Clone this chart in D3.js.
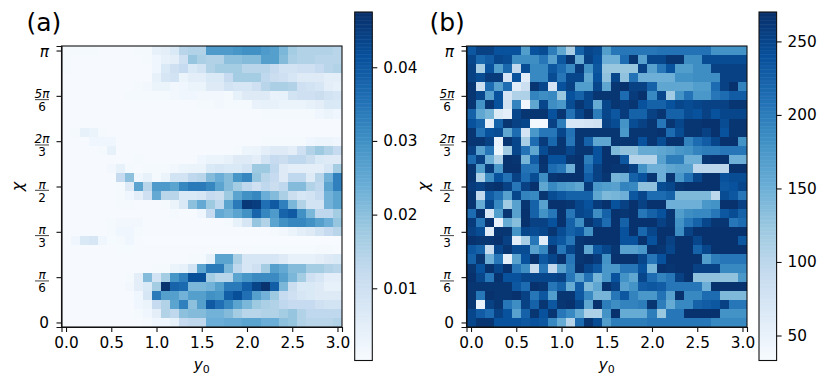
<!DOCTYPE html>
<html>
<head>
<meta charset="utf-8">
<script src="https://d3js.org/d3.v7.min.js"></script>
<style>
  html, body {margin: 0; padding: 0; background: #fff;}
  svg {display: block;}
  text {font-family: "DejaVu Sans", sans-serif; fill: #000;}
  .axis text {font-size: 15.3px;}
  .axis path, .axis line {stroke: #111; stroke-width: 1.1;}
</style>
</head>
<body>
<div id="chart"></div>
<script>
var yTicks = [0, 0.5, 1, 1.5, 2, 2.5, 3];
var yLabels = ["0.0", "0.5", "1.0", "1.5", "2.0", "2.5", "3.0"];
// chi ticks, as multiples of pi
var chiTicks = [0, 1/6, 1/3, 1/2, 2/3, 5/6, 1];
var chiNum = ["0", "π", "π", "π", "2π", "5π", "π"];
var chiDen = ["", "6", "3", "2", "3", "6", ""];
var barTicksA = [0.01, 0.02, 0.03, 0.04];
var barTicksB = [50, 100, 150, 200, 250];
var blues = ["#f7fbff", "#deebf7", "#c6dbef", "#9ecae1", "#6baed6", "#4292c6", "#2171b5", "#08519c", "#08306b"];

// panel (a), in units of 0.001, top row (chi = pi) first, y0 = 0.0 ... 3.0
var gridA = [
  [1,1,1,1,.5,.5,.5,.5,1,1,4,5,7,14,15,15,28,28,28,29,30,30,28,27,22,17,15,15,15,15,14],
  [1,.5,.5,.5,.5,.5,.5,.5,.5,1,2,4,5,10,19,16,15,15,20,20,21,21,27,27,21,16,15,15,14,14,14],
  [1,.5,.5,.5,.5,.5,.5,.5,.5,.5,2,7,10,12,7,9,15,17,17,17,14,14,14,12,9,9,10,10,12,14,15],
  [.5,.5,.5,.5,.5,.5,.5,.5,.5,.5,4,8,9,3,5,5,7,7,12,17,17,17,13,11,10,8,6,6,6,5,5],
  [.5,.5,.5,.5,.5,.5,.5,.5,1,1.5,3,3,1.5,2,3,3,6,6,9,8,8,10,14,16,16,15,10,9,8,5,4],
  [.5,.5,.5,.5,.5,.5,.5,1,1,1,1,1,1.5,2,2,1.5,1.5,1.5,1,4,6,6,6,3.5,4,9,10,10,11,9,8],
  [.5,.5,.5,.5,.5,.5,.5,.5,.5,.5,.5,.5,.5,.5,.5,1,1,1.5,1,1,1,3.5,4,4,3,3,3,4,5,7,7],
  [.5,.5,.5,.5,.5,.5,.5,.5,.5,.5,.5,.5,.5,.5,.5,.5,.5,.5,.5,.5,.5,.5,1,1,1,1,1,1,2,3,2],
  [.5,.5,.5,.5,.5,.5,.5,.5,.5,.5,.5,.5,.5,.5,.5,.5,.5,.5,.5,.5,.5,.5,.5,.5,.5,.5,.5,.5,.5,.5,.5],
  [.5,1,4,3,1,.5,.5,.5,.5,.5,.5,.5,.5,.5,.5,.5,.5,.5,.5,.5,.5,.5,.5,.5,.5,.5,.5,.5,.5,.5,.5],
  [.5,.5,.5,2,2,2,.5,.5,.5,.5,.5,.5,.5,.5,.5,.5,.5,.5,.5,.5,.5,.5,1,1,1,1,1,2,2.5,2.5,2],
  [.5,.5,.5,.5,1,4,.5,.5,.5,.5,.5,.5,.5,.5,.5,.5,.5,.5,.5,1,2.5,3,5,6,6,5,10,15,18,15,12],
  [.5,.5,.5,.5,.5,.5,.5,.5,1,.5,.5,.5,.5,.5,.5,2,3,3,4,6,6,5,9,12,11,13,13,11,7,6,6],
  [.5,.5,.5,.5,.5,1.5,4,1,.5,1,1,1,1.5,2.5,3,3,7,8,7,7,9,18,18,13,6,5,5,5,5,8,17],
  [.5,.5,.5,.5,.5,.5,12,20,2,4,1,3,9,9,13,14,21,24,21,29,32,19,14,12,6,13,13,6,14,23,33],
  [.5,.5,.5,.5,.5,.5,1,6,26,14,28,28,26,32,34,34,32,26,21,17,13,10,13,11,13,21,21,15,13,26,33],
  [.5,.5,.5,.5,.5,.5,1,2,5,10,25,14,14,7,7,8,12,11,18,26,30,32,24,21,16,11,8,9,12,23,26],
  [.5,.5,.5,.5,.5,.5,1,1,.5,.5,.5,1,3,7,20,25,18,13,26,34,46,45,36,40,33,22,15,9,9,23,26],
  [.5,.5,.5,.5,.5,.5,.5,.5,.5,.5,.5,.5,1,.5,.5,2,12,25,23,26,30,38,32,28,38,40,30,22,13,13,17],
  [.5,.5,.5,.5,.5,1,1.5,1.5,1.5,.5,.5,.5,.5,.5,.5,.5,.5,.5,1,4,8,19,15,26,30,32,32,30,27,24,19],
  [.5,.5,.5,.5,.5,1,2,2,1,.5,.5,.5,.5,.5,.5,.5,.5,.5,.5,.5,.5,.5,.5,1,1.5,3,5,6,9,12,14],
  [.5,2,7,8,2,.7,1,2,.5,.3,.3,.3,.3,.3,.3,.3,.3,.3,.3,.3,.3,.3,.3,.3,.3,.3,.3,.3,.3,.3,.3],
  [.5,.5,.5,.5,.5,.5,.7,.7,.5,.5,.5,.5,.5,.5,.5,.5,.5,.5,.5,.5,.5,.7,.7,.7,.7,.7,.7,.7,1,1,.5],
  [.5,.5,.5,.5,.5,.5,.5,.5,.5,.5,.5,.5,.5,.5,1,1,4,26,26,16,8,8,8,8,6,4,4,4,5,6,7],
  [.5,.5,.5,.5,.5,.5,.5,.5,.5,.5,1,1,3,4,9,26,34,34,22,13,8,10,17,27,25,21,21,17,17,15,14],
  [.5,.5,.5,.5,.5,.5,.5,1,5,21,9,17,29,33,42,42,17,14,14,26,29,31,31,31,27,22,17,10,8,5,5],
  [.5,.5,.5,.5,.5,.5,.5,1.5,5,7,17,47,38,37,22,22,23,27,34,34,39,44,47,39,22,11,7,7,6,4,4],
  [.5,.5,.5,.5,.5,.5,.5,.5,2,8,34,27,27,23,27,27,30,29,39,42,36,27,23,18,12,10,8,7,6,6,6],
  [.5,.5,.5,.5,.5,.5,.5,.5,2,3,12,15,26,33,20,27,40,36,32,26,22,18,16,15,13,12,12,12,10,9,9],
  [.5,.5,.5,.5,.5,.5,.5,.5,1,2,5,15,13,20,21,21,23,23,21,17,14,14,15,15,17,19,15,13,13,13,13],
  [.5,.5,.5,.5,.5,.5,.5,.5,.5,1,2,2,4,12,13,13,24,24,25,25,26,26,24,24,20,19,15,14,14,14,15]
];

// panel (b), top row (chi = pi) first
var gridB = [
  [235,255,255,240,240,240,170,240,245,200,160,115,225,250,245,170,205,205,205,205,205,210,210,210,210,210,210,180,180,180,180],
  [250,220,230,250,245,185,185,185,205,165,235,265,155,255,240,150,150,215,265,165,250,250,265,265,185,185,245,245,245,245,245],
  [255,115,240,170,220,95,245,190,190,235,215,190,260,180,235,125,125,125,125,255,165,205,240,170,170,185,185,255,255,255,255],
  [255,245,260,260,75,240,60,190,190,245,205,250,250,160,240,130,250,130,210,150,150,150,150,180,180,185,185,185,255,255,255],
  [265,85,215,165,215,60,85,265,250,75,240,255,170,170,250,160,265,268,255,255,225,160,160,160,160,170,170,215,255,268,195],
  [265,250,165,240,75,110,110,195,185,190,125,240,225,250,265,265,265,215,260,268,190,250,120,180,210,175,175,205,215,230,230],
  [265,180,265,240,80,195,40,160,250,185,175,245,265,250,155,250,265,260,265,240,225,225,240,250,245,250,255,255,255,265,265],
  [225,160,145,65,55,250,265,265,265,240,265,210,250,268,200,250,235,260,225,225,255,265,225,225,245,240,255,240,250,250,250],
  [240,225,55,225,265,255,250,38,38,255,200,70,70,75,80,255,245,180,245,255,265,205,265,250,265,265,268,268,245,265,265],
  [265,210,240,245,160,215,75,175,205,205,250,210,265,265,265,265,265,175,265,265,265,268,215,245,265,265,255,268,240,265,265],
  [265,265,255,50,265,250,115,215,260,220,265,205,265,225,160,160,265,265,265,240,265,245,268,268,195,215,230,250,268,268,180],
  [255,165,205,45,120,250,210,160,245,265,265,250,265,265,240,268,140,130,130,155,155,160,165,175,180,195,200,200,205,205,205],
  [215,255,150,110,268,265,145,230,268,240,240,265,268,200,240,268,268,235,105,105,105,165,200,200,150,150,265,268,268,150,150],
  [265,170,260,175,268,268,210,205,265,215,205,150,268,215,255,268,265,265,255,180,150,150,160,165,165,100,100,100,100,268,268],
  [265,110,185,240,210,255,215,245,185,265,268,268,268,230,255,265,145,150,225,240,265,150,265,175,210,250,268,268,240,245,245],
  [260,255,265,268,255,205,255,268,160,190,175,170,160,260,175,170,165,195,190,130,130,245,250,265,268,268,268,268,235,240,250],
  [265,95,230,210,165,250,195,190,265,245,235,225,225,225,160,140,145,150,235,250,215,215,225,140,140,140,140,100,245,235,205],
  [265,155,250,190,120,165,265,225,165,268,268,265,250,240,260,268,240,255,268,255,268,268,150,150,150,150,175,180,268,268,255],
  [215,268,70,170,265,165,268,225,180,205,268,205,250,245,185,225,268,265,268,205,225,240,265,170,185,190,190,205,235,245,225],
  [260,205,268,50,155,135,268,255,255,240,268,225,185,265,250,215,268,225,268,268,268,255,265,180,205,225,250,265,265,205,215],
  [255,245,60,265,265,180,250,245,250,265,245,225,235,180,268,268,268,240,268,220,250,268,268,185,255,268,268,268,268,268,268],
  [268,265,265,268,255,60,115,205,60,245,235,205,265,268,268,268,268,240,240,268,240,268,255,268,268,250,268,268,268,268,235],
  [235,225,90,250,265,245,245,165,190,268,205,250,265,160,235,250,265,165,165,175,268,265,250,268,268,225,250,268,268,268,268],
  [225,265,150,205,55,165,240,268,235,250,268,205,265,268,260,180,268,268,268,250,205,240,268,268,268,268,170,200,205,205,205],
  [265,240,268,250,268,205,185,90,205,95,165,200,268,250,235,175,175,205,205,240,145,268,265,268,268,255,255,255,190,190,190],
  [268,250,205,268,240,240,250,250,250,250,255,205,165,210,145,175,240,180,160,250,215,195,205,255,268,130,130,130,130,130,175],
  [265,265,265,265,265,235,215,268,265,205,225,155,230,140,160,268,255,165,180,230,235,230,205,205,205,205,150,268,268,268,268],
  [265,205,268,265,265,268,255,205,235,170,265,265,235,190,145,145,205,235,195,175,175,210,165,268,190,190,215,215,140,140,140],
  [265,50,255,265,205,185,255,225,265,235,265,268,250,160,268,200,185,195,195,200,265,200,155,190,190,225,230,235,255,205,205],
  [250,230,215,255,240,165,225,265,240,265,205,190,155,110,110,180,268,155,155,155,200,125,205,205,268,268,268,268,180,180,180],
  [250,265,265,240,240,240,235,240,235,190,155,105,215,265,245,170,200,200,200,200,205,205,205,205,205,205,205,190,190,190,190]
];

var svg = d3.select("#chart").append("svg")
  .attr("width", 830)
  .attr("height", 378);

drawPanel(gridA.map(function(r) {return r.map(function(v) {return v / 1000;});}), {
  L: 61.5, T: 46, W: 280.5, H: 281, letter: "(a)", letterX: 26.5, chiX: 22.5,
  barL: 354.7, barW: 17.6, barMin: 0.0002, barMax: 0.0475, barTicks: barTicksA,
  barFormat: d3.format(".2f")
});
drawPanel(gridB, {
  L: 466.5, T: 46, W: 280.5, H: 281, letter: "(b)", letterX: 429.5, chiX: 428.5,
  barL: 759, barW: 17.6, barMin: 33, barMax: 270, barTicks: barTicksB,
  barFormat: d3.format("d")
});

function drawPanel(grid, geom) {
  var n = grid.length;
  var stops = blues.map(function(c, i) {return geom.barMin + (geom.barMax - geom.barMin) * i / (blues.length - 1);});
  var color = d3.scaleLinear().domain(stops).range(blues).clamp(true);

  var x = d3.scaleLinear().domain([-0.05, 3.05]).range([geom.L, geom.L + geom.W]);
  var y = d3.scaleLinear().domain([-1 / 60, 1 + 1 / 60]).range([geom.T + geom.H, geom.T]);
  var dy = 1 / 30;

  var cells = [];
  grid.forEach(function(row, r) {
    row.forEach(function(v, c) {
      cells.push({x: c * 0.1, chi: (n - 1 - r) / 30, v: v});
    });
  });

  svg.append("g").selectAll("rect").data(cells)
    .enter().append("rect")
    .attr("x", function(d) {return x(d.x - 0.05);})
    .attr("y", function(d) {return y(d.chi + dy / 2);})
    .attr("width", x(0.1) - x(0))
    .attr("height", y(0) - y(dy))
    .attr("fill", function(d) {return color(d.v);})
    .attr("shape-rendering", "crispEdges");

  var xAxis = d3.axisBottom(x)
    .tickValues(yTicks)
    .tickFormat(function(d, i) {return yLabels[i];})
    .tickSize(5)
    .tickPadding(5);
  svg.append("g")
    .attr("class", "axis")
    .attr("transform", "translate(0," + (geom.T + geom.H) + ")")
    .call(xAxis);

  var yAxis = d3.axisLeft(y)
    .tickValues(chiTicks)
    .tickFormat("")
    .tickSize(5);
  var gy = svg.append("g")
    .attr("class", "axis")
    .attr("transform", "translate(" + geom.L + ",0)")
    .call(yAxis);

  // fractions of pi, written out by hand since svg has no mathtext
  gy.selectAll(".tick").each(function(d, i) {
    var t = d3.select(this);
    if (chiDen[i] === "") {
      t.append("text")
        .attr("x", -12.5)
        .attr("dy", "0.36em")
        .attr("text-anchor", "end")
        .style("font-style", i == 0 ? "normal" : "oblique")
        .text(chiNum[i]);
    } else {
      var cx = -19.5;
      t.append("text")
        .attr("x", cx).attr("y", 1.5)
        .attr("text-anchor", "middle")
        .style("font-size", "12px")
        .style("font-style", "oblique")
        .text(chiNum[i]);
      t.append("line")
        .attr("x1", cx - 7).attr("x2", cx + 7)
        .attr("y1", 3.3).attr("y2", 3.3)
        .style("stroke-width", 0.8);
      t.append("text")
        .attr("x", cx).attr("y", 14.5)
        .attr("text-anchor", "middle")
        .style("font-size", "12px")
        .text(chiDen[i]);
    }
  });

  svg.append("rect")
    .attr("x", geom.L).attr("y", geom.T)
    .attr("width", geom.W).attr("height", geom.H)
    .attr("fill", "none")
    .attr("stroke", "#111")
    .attr("stroke-width", 1.1);

  var midX = geom.L + geom.W / 2;
  var xl = svg.append("text")
    .attr("x", midX).attr("y", 370)
    .attr("text-anchor", "middle")
    .style("font-size", "15.3px");
  xl.append("tspan").style("font-style", "oblique").text("y");
  xl.append("tspan").attr("dy", 2.5).style("font-size", "11px").text("0");

  svg.append("text")
    .attr("transform", "translate(" + geom.chiX + "," + (geom.T + geom.H / 2) + ") rotate(-90)")
    .attr("text-anchor", "middle")
    .style("font-size", "16px")
    .style("font-style", "oblique")
    .text("χ");

  svg.append("text")
    .attr("x", geom.letterX).attr("y", 31)
    .style("font-size", "25px")
    .text(geom.letter);

  // colorbar
  var barT = 12, barB = 360.5;
  var b = d3.scaleLinear().domain([geom.barMin, geom.barMax]).range([barB, barT]);
  var levels = d3.range(0, 256).map(function(i) {return geom.barMin + (geom.barMax - geom.barMin) * i / 255;});
  var step = (barB - barT) / 256;
  svg.append("g").selectAll("rect").data(levels)
    .enter().append("rect")
    .attr("x", geom.barL)
    .attr("y", function(d, i) {return barB - (i + 1) * step;})
    .attr("width", geom.barW)
    .attr("height", step + 0.5)
    .attr("fill", function(d) {return color(d);});

  var barAxis = d3.axisRight(b)
    .tickValues(geom.barTicks)
    .tickFormat(geom.barFormat)
    .tickSize(5)
    .tickPadding(6);
  svg.append("g")
    .attr("class", "axis")
    .attr("transform", "translate(" + (geom.barL + geom.barW) + ",0)")
    .call(barAxis)
    .select(".domain").remove();

  svg.append("rect")
    .attr("x", geom.barL).attr("y", barT)
    .attr("width", geom.barW).attr("height", barB - barT)
    .attr("fill", "none")
    .attr("stroke", "#111")
    .attr("stroke-width", 1.1);
}
</script>
</body>
</html>
